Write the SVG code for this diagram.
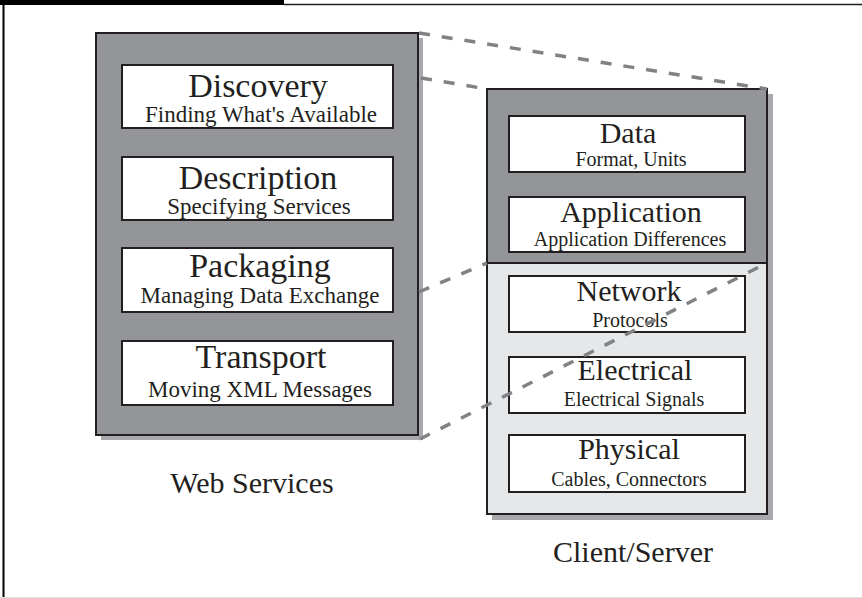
<svg xmlns="http://www.w3.org/2000/svg" width="862" height="598" viewBox="0 0 862 598">
<style>
.t{font-family:"Liberation Serif","Times New Roman",serif;fill:#231f20;text-anchor:middle}
.lt{font-size:34px}
.ls{font-size:23px}
.rt{font-size:30px}
.rs{font-size:20px}
.lab{font-size:30px}
.box{fill:#ffffff;stroke:#231f20;stroke-width:2}
.outer{stroke:#231f20;stroke-width:2}
.shadow{fill:#a7a9ac}
.dash{stroke:#808285;stroke-width:3.5;stroke-dasharray:11 12;fill:none}
</style>
<rect x="0" y="0" width="862" height="598" fill="#ffffff"/>
<rect x="0" y="0" width="284" height="5" fill="#000000"/>
<line x1="284" y1="4.5" x2="862" y2="4.5" stroke="#231f20" stroke-width="1.5"/>
<line x1="3.5" y1="0" x2="3.5" y2="598" stroke="#000000" stroke-width="2"/>
<line x1="0" y1="597.5" x2="862" y2="597.5" stroke="#e0e0e0" stroke-width="1"/>

<g id="web-services">
<rect class="shadow" x="101" y="38" width="322" height="402"/>
<rect class="outer" x="96" y="33" width="322" height="402" fill="#939598"/>
<g id="discovery">
<rect class="box" x="122" y="65" width="271" height="63"/>
<text class="t lt" x="258" y="97">Discovery</text>
<text class="t ls" x="261" y="122">Finding What's Available</text>
</g>
<g id="description">
<rect class="box" x="122" y="157" width="271" height="63"/>
<text class="t lt" x="258" y="189">Description</text>
<text class="t ls" x="259" y="214">Specifying Services</text>
</g>
<g id="packaging">
<rect class="box" x="122" y="248" width="271" height="64"/>
<text class="t lt" x="260" y="277">Packaging</text>
<text class="t ls" x="260" y="303">Managing Data Exchange</text>
</g>
<g id="transport">
<rect class="box" x="122" y="341" width="271" height="64"/>
<text class="t lt" x="261" y="368">Transport</text>
<text class="t ls" x="260" y="397">Moving XML Messages</text>
</g>
</g>
<text id="web-services-label" class="t lab" x="252" y="493">Web Services</text>

<g id="client-server">
<rect class="shadow" x="492" y="94" width="281" height="426"/>
<rect x="487" y="89" width="280" height="174" fill="#939598"/>
<rect x="487" y="263" width="280" height="251" fill="#e6e7e8"/>
<rect x="487" y="89" width="280" height="425" fill="none" stroke="#231f20" stroke-width="2"/>
<line x1="487" y1="263" x2="767" y2="263" stroke="#231f20" stroke-width="2"/>
<g id="data">
<rect class="box" x="509" y="116" width="236" height="56"/>
<text class="t rt" x="628" y="143">Data</text>
<text class="t rs" x="631" y="166">Format, Units</text>
</g>
<g id="application">
<rect class="box" x="509" y="197" width="236" height="55"/>
<text class="t rt" x="631" y="222">Application</text>
<text class="t rs" x="630" y="246">Application Differences</text>
</g>
<g id="network">
<rect class="box" x="509" y="276" width="236" height="56"/>
<text class="t rt" x="629" y="301">Network</text>
<text class="t rs" x="630" y="327">Protocols</text>
</g>
<g id="electrical">
<rect class="box" x="509" y="357" width="236" height="56"/>
<text class="t rt" x="635" y="380">Electrical</text>
<text class="t rs" x="634" y="406">Electrical Signals</text>
</g>
<g id="physical">
<rect class="box" x="509" y="435" width="236" height="57"/>
<text class="t rt" x="629" y="459">Physical</text>
<text class="t rs" x="629" y="486">Cables, Connectors</text>
</g>
</g>
<text id="client-server-label" class="t lab" x="633" y="562">Client/Server</text>

<g id="connectors">
<line class="dash" x1="419" y1="33" x2="767" y2="89"/>
<line class="dash" x1="421" y1="78" x2="487" y2="89"/>
<line class="dash" x1="419" y1="292" x2="487" y2="263"/>
<line class="dash" x1="420" y1="439" x2="767" y2="263"/>
</g>
</svg>
